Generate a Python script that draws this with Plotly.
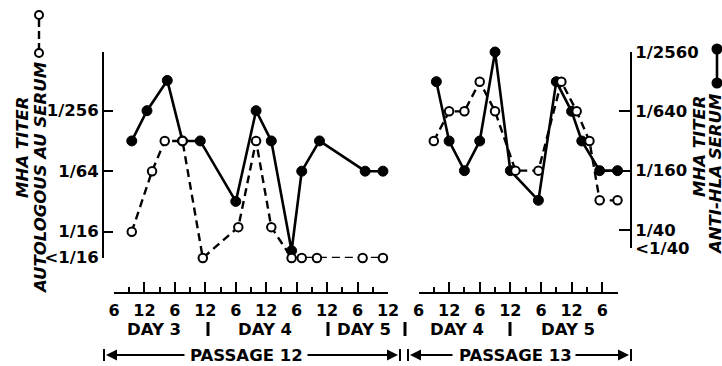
import plotly.graph_objects as go

W, H = 722, 366
FONT = "DejaVu Sans"

# ---------------- data ----------------
# Passage 12 (hours from 00:00 of Day 3), titre level in doublings above 1/16 ("<1/16" = below scale)
p12_hla_hours = [9.5, 12.5, 16.5, 19.5, 23, 30, 34, 37, 41, 43, 46.5, 55.5, 59]
p12_hla_level = [3, 4, 5, 3, 3, 1, 4, 3, -0.63, 2, 3, 2, 2]
p12_au_hours = [9.5, 13.5, 16, 19.5, 23.5, 30.5, 34, 37, 41, 43, 46, 55, 59]
p12_au_level = [0, 2, 3, 3, -0.87, 0.15, 3, 0.15, -0.87, -0.87, -0.87, -0.87, -0.87]

# Passage 13 (hours from 00:00 of Day 4), titre level in doublings above 1/40
p13_hla_hours = [9.5, 12, 15, 18, 21, 24, 29.5, 33, 36, 38, 41.5, 45]
p13_hla_level = [5, 3, 2, 3, 6, 2, 1, 5, 4, 3, 2, 2]
p13_au_hours = [9, 12, 15, 18, 21, 25, 29.5, 34, 37, 39.5, 41.5, 45]
p13_au_level = [3, 4, 4, 5, 4, 2, 2, 5, 4, 3, 1, 1]

left_tick_vals = [-0.86, 0, 2, 4]
left_tick_text = ["<1/16", "1/16", "1/64", "1/256"]
right_tick_vals = [-0.6, 0, 2, 4, 5.995]
right_tick_text = ["<1/40", "1/40", "1/160", "1/640", "1/2560"]

p12_major = [6, 12, 18, 24, 30, 36, 42, 48, 54, 60]
p12_minor = [9, 15, 21, 27, 33, 39, 45, 51, 57]
p13_major = [6, 12, 18, 24, 30, 36, 42]
p13_minor = [9, 15, 21, 27, 33, 39, 45]
clock_text_p12 = ["6", "12", "6", "12", "6", "12", "6", "12", "6", "12"]
clock_text_p13 = ["6", "12", "6", "12", "6", "12", "6"]


def px(x):
    return x / W


def py(y):
    return 1 - y / H


fig = go.Figure()

solid = dict(color="black", width=2.6)
dashed = dict(color="black", width=2.4, dash="8px,5px")
filled_marker = dict(symbol="circle", size=10, color="black", line=dict(color="black", width=1))
open_marker = dict(symbol="circle", size=8.5, color="white", line=dict(color="black", width=2))

fig.add_trace(go.Scatter(x=p12_hla_hours, y=p12_hla_level, mode="lines+markers", line=solid,
                         marker=filled_marker, xaxis="x", yaxis="y", cliponaxis=False, showlegend=False,
                         hoverinfo="skip"))
fig.add_trace(go.Scatter(x=p12_au_hours, y=p12_au_level, mode="lines+markers", line=dashed,
                         marker=open_marker, xaxis="x", yaxis="y", cliponaxis=False, showlegend=False,
                         hoverinfo="skip"))
fig.add_trace(go.Scatter(x=p13_hla_hours, y=p13_hla_level, mode="lines+markers", line=solid,
                         marker=filled_marker, xaxis="x2", yaxis="y2", cliponaxis=False, showlegend=False,
                         hoverinfo="skip"))
fig.add_trace(go.Scatter(x=p13_au_hours, y=p13_au_level, mode="lines+markers", line=dashed,
                         marker=open_marker, xaxis="x2", yaxis="y2", cliponaxis=False, showlegend=False,
                         hoverinfo="skip"))

tick_font = dict(family=FONT, size=16.5, color="black", weight="bold")
ruler_pos = py(293)
common_x = dict(showline=True, linecolor="black", linewidth=2, ticks="inside", ticklen=10, tickwidth=2,
                tickcolor="black", showgrid=False, zeroline=False, anchor="free", position=ruler_pos,
                tickfont=dict(family=FONT, size=16, color="black", weight="bold"), tickmode="array",
                automargin=False, ticklabelstandoff=3)

fig.update_layout(
    template="none",
    width=W, height=H, margin=dict(l=0, r=0, t=0, b=0, pad=0, autoexpand=False), autosize=False,
    paper_bgcolor="white", plot_bgcolor="white", showlegend=False,
    xaxis=dict(domain=[px(114), px(388)], range=[6, 60], tickvals=p12_major, ticktext=clock_text_p12,
               minor=dict(tickvals=p12_minor, ticklen=5, tickwidth=2, ticks="inside", tickcolor="black"),
               **common_x),
    xaxis2=dict(domain=[px(418.5), px(617.5)], range=[6, 45], tickvals=p13_major, ticktext=clock_text_p13,
                minor=dict(tickvals=p13_minor, ticklen=5, tickwidth=2, ticks="inside", tickcolor="black"),
                **common_x),
    yaxis=dict(domain=[py(258), py(52)], range=[-0.87, 5.94], anchor="free", position=px(103),
               showline=True, linecolor="black", linewidth=2, ticks="inside", ticklen=9, tickwidth=2,
               tickcolor="black", tickmode="array", tickvals=left_tick_vals, ticktext=left_tick_text,
               showgrid=False, zeroline=False, automargin=False, tickfont=tick_font),
    yaxis2=dict(domain=[py(248), py(52)], range=[-0.607, 6.0], anchor="free", position=px(631),
                side="right", showline=True, linecolor="black", linewidth=2, ticks="inside", ticklen=11,
                tickwidth=2, tickcolor="black", tickmode="array", tickvals=right_tick_vals,
                ticktext=right_tick_text, showgrid=False, zeroline=False, automargin=False,
                tickfont=tick_font),
)

ann = []


def text(x, y, s, size=16.5, angle=0, italic=False):
    ann.append(dict(x=px(x), y=py(y), xref="paper", yref="paper", text=s, showarrow=False,
                    xanchor="center", yanchor="middle", textangle=angle,
                    font=dict(family=FONT, size=size, color="black", weight="bold",
                              style="italic" if italic else "normal")))


# axis titles
text(22, 148, "MHA TITER", 16.5, -90, True)
text(40, 178, "AUTOLOGOUS AU SERUM", 16.5, -90, True)
text(699, 147, "MHA TITER", 16.5, -90, True)
text(715, 174, "ANTI-HLA SERUM", 16.5, -90, True)

# day labels
text(154, 329, "DAY 3")
text(265, 329, "DAY 4")
text(364, 329, "DAY 5")
text(457, 329, "DAY 4")
text(568, 329, "DAY 5")

# passage labels
text(246, 355, "PASSAGE 12")
text(515, 355, "PASSAGE 13")


def arrow(x_head, x_tail, y):
    ann.append(dict(x=px(x_head), y=py(y), xref="paper", yref="paper", ax=x_tail - x_head, ay=0,
                    axref="pixel", ayref="pixel", text="", showarrow=True, arrowhead=2,
                    arrowsize=1.1, arrowwidth=2, arrowcolor="black"))


arrow(106, 186, 355)
arrow(398, 306, 355)
arrow(410, 454, 355)
arrow(629, 574, 355)

shapes = []


def vbar(x, y0, y1, w=3):
    shapes.append(dict(type="line", xref="paper", yref="paper", x0=px(x), x1=px(x), y0=py(y0), y1=py(y1),
                       line=dict(color="black", width=w)))


for xb in [208, 328, 405, 510]:
    vbar(xb, 322, 336)
for xb in [104, 400, 408, 631]:
    vbar(xb, 349, 361, 2)


def dot(x, y, fill, r=4):
    shapes.append(dict(type="circle", xref="paper", yref="paper", xsizemode="pixel", ysizemode="pixel",
                       xanchor=px(x), yanchor=py(y), x0=-r, x1=r, y0=-r, y1=r,
                       fillcolor=fill, line=dict(color="black", width=2)))


# legend keys
shapes.append(dict(type="line", xref="paper", yref="paper", x0=px(39), x1=px(39), y0=py(19), y1=py(49),
                   line=dict(color="black", width=2.4, dash="8px,4px")))
dot(39, 15, "white")
dot(39, 53, "white")
shapes.append(dict(type="line", xref="paper", yref="paper", x0=px(717), x1=px(717), y0=py(49), y1=py(83),
                   line=dict(color="black", width=2.6)))
dot(717, 49, "black", 4.5)
dot(717, 83, "black", 4.5)

fig.update_layout(annotations=ann, shapes=shapes)
fig.write_html("out.html", config={"displayModeBar": False, "staticPlot": True},
               post_script="document.body.style.margin='0';document.body.style.overflow='hidden';")
